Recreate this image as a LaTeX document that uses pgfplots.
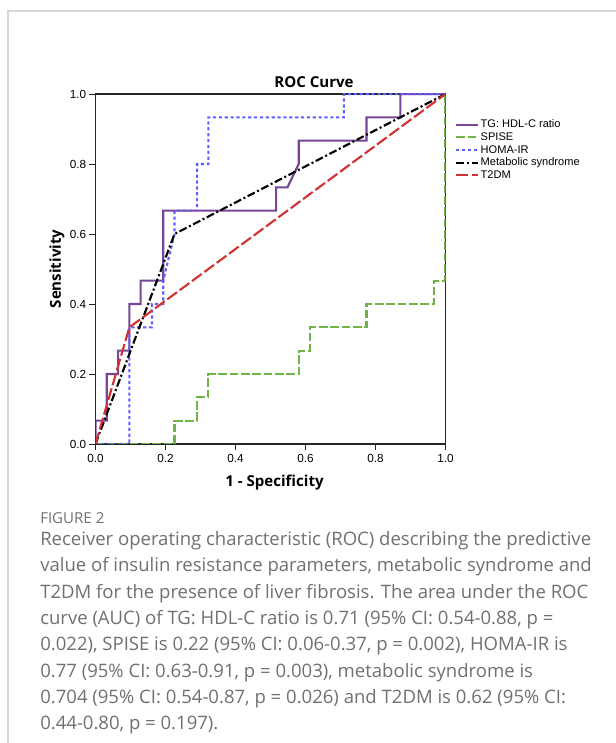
\documentclass[border=0pt]{standalone}
\usepackage{fontspec}
\setmainfont{Liberation Sans}
\newfontfamily\osans{Open Sans}
\usepackage{pgfplots}
\pgfplotsset{compat=1.18}

\definecolor{tgcol}{RGB}{120,70,150}
\definecolor{spisecol}{RGB}{110,180,70}
\definecolor{homacol}{RGB}{95,95,255}
\definecolor{t2dmcol}{RGB}{210,50,50}
\definecolor{capgray}{RGB}{112,112,112}
\definecolor{framegray}{RGB}{215,215,215}

\begin{document}
\begin{tikzpicture}[x=0.75pt,y=0.75pt]
\path[use as bounding box] (0,0) rectangle (616,743);
% panel frame (top and left only)
\draw[framegray, line width=1.2pt] (8,0) -- (8,732) -- (616,732);

\begin{axis}[
  at={(71.625pt,224.25pt)}, anchor=south west,
  scale only axis, width=262.5pt, height=262.5pt,
  xmin=0, xmax=1, ymin=0, ymax=1,
  axis line style={draw=black!85, line width=0.8pt},
  tick pos=left, tick align=outside, major tick length=4.5pt,
  tick style={draw=black!85, line width=0.7pt},
  xtick={0,0.2,0.4,0.6,0.8,1}, ytick={0,0.2,0.4,0.6,0.8,1},
  /pgf/number format/.cd, fixed, fixed zerofill, precision=1, assume math mode=true, /pgfplots/.cd,
  tick label style={font=\fontsize{8.8}{10}\selectfont},
  yticklabel style={xshift=1pt},
  legend style={at={(1.027,0.931)}, anchor=north west, draw=none, fill=none,
    font=\fontsize{8.3}{9.5}\selectfont, inner sep=0pt, row sep=0pt,
    nodes={inner sep=1pt, text height=6pt, text depth=1.5pt}},
  legend cell align=left,
  legend image code/.code={\draw[#1] (0pt,0pt) -- (16.5pt,0pt);},
]
\addplot[tgcol, line width=1.6pt] coordinates {
 (0,0) (0,0.0667) (0.0323,0.0667) (0.0323,0.2) (0.0645,0.2) (0.0645,0.2667)
 (0.0968,0.2667) (0.0968,0.4) (0.1290,0.4) (0.1290,0.4667) (0.1935,0.4667)
 (0.1935,0.6667) (0.5161,0.6667) (0.5161,0.7333) (0.5484,0.7333) (0.5806,0.8)
 (0.5806,0.8667) (0.7742,0.8667) (0.7742,0.9333) (0.8710,0.9333) (0.8710,1) (1,1)};
\addplot[spisecol, line width=1.6pt, dash pattern=on 6.5pt off 2pt] coordinates {
 (0,0) (0.2258,0) (0.2258,0.0667) (0.2903,0.0667) (0.2903,0.1333) (0.3226,0.1333)
 (0.3226,0.2) (0.5806,0.2) (0.5806,0.2667) (0.6129,0.2667) (0.6129,0.3333)
 (0.7742,0.3333) (0.7742,0.4) (0.9677,0.4) (0.9677,0.4667) (1,0.4667) (1,1)};
\addplot[homacol, line width=1.6pt, dash pattern=on 2.4pt off 2pt] coordinates {
 (0,0) (0.0968,0) (0.0968,0.3333) (0.1613,0.3333) (0.1613,0.4) (0.1935,0.4)
 (0.1935,0.4667) (0.2258,0.6) (0.2258,0.6667) (0.2903,0.6667) (0.2903,0.8)
 (0.3226,0.8) (0.3226,0.9333) (0.7097,0.9333) (0.7097,1) (1,1)};
\addplot[black, line width=1.6pt, dash pattern=on 6pt off 2pt on 1.5pt off 2pt] coordinates {
 (0,0) (0.2258,0.6) (1,1)};
\addplot[t2dmcol, line width=1.6pt, dash pattern=on 9pt off 2.5pt] coordinates {
 (0,0) (0.0968,0.3333) (1,1)};
\legend{TG: HDL-C ratio, SPISE, HOMA-IR, Metabolic syndrome, T2DM}
\end{axis}

\node[font=\osans\bfseries\fontsize{11.3}{13}\selectfont] at (314,661) {ROC Curve};
\node[font=\osans\bfseries\fontsize{11.3}{13}\selectfont, anchor=base] at (274.5,256.3) {1 - Specificity};
\node[font=\osans\bfseries\fontsize{11.3}{13}\selectfont, rotate=90] at (57,474) {Sensitivity};

\begin{scope}[every node/.style={anchor=base west, inner sep=0pt, text=capgray,
    font=\osans\fontsize{13.9}{16}\selectfont}]
\node[font=\osans\fontsize{11.3}{13}\selectfont] at (40,219) {FIGURE 2};
\node at (40,197) {Receiver operating characteristic (ROC) describing the predictive};
\node at (40,171) {value of insulin resistance parameters, metabolic syndrome and};
\node at (40,144) {T2DM for the presence of liver fibrosis. The area under the ROC};
\node at (40,118) {curve (AUC) of TG: HDL-C ratio is 0.71 (95\% CI: 0.54-0.88, p =};
\node at (40,92) {0.022), SPISE is 0.22 (95\% CI: 0.06-0.37, p = 0.002), HOMA-IR is};
\node at (40,65) {0.77 (95\% CI: 0.63-0.91, p = 0.003), metabolic syndrome is};
\node at (40,39) {0.704 (95\% CI: 0.54-0.87, p = 0.026) and T2DM is 0.62 (95\% CI:};
\node at (40,13) {0.44-0.80, p = 0.197).};
\end{scope}
\end{tikzpicture}
\end{document}
